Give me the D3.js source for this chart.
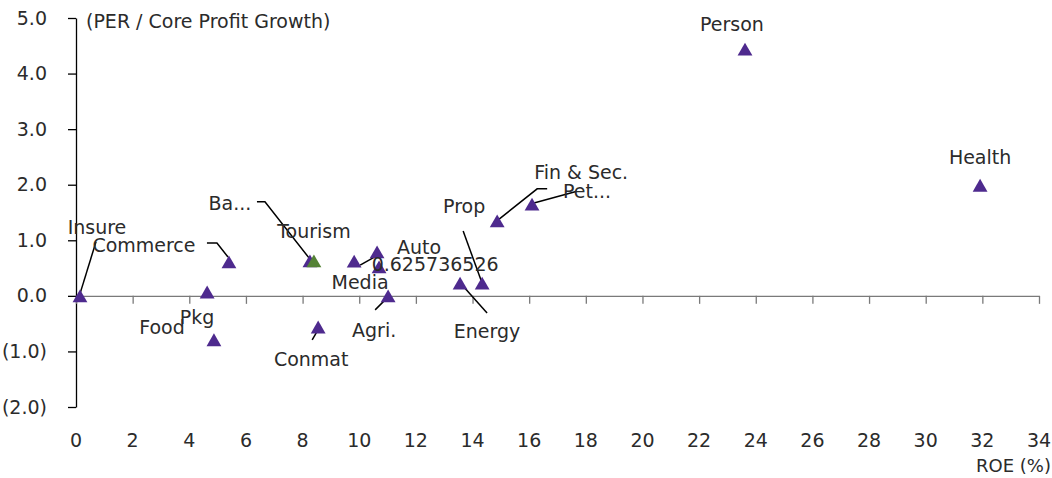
<!DOCTYPE html>
<html>
<head>
<meta charset="utf-8">
<script src="https://cdn.jsdelivr.net/npm/d3@7"></script>
<style>
  html, body { margin: 0; padding: 0; background: #fff; }
  svg { display: block; font-family: "DejaVu Sans", sans-serif; }
</style>
</head>
<body>
<svg id="chart" width="1052" height="478"></svg>
<script>
// ---- data ----
const sectors = ["Insure","Commerce","Pkg","Food","Ba...","Tourism","Auto","0.625736526","Media","Agri.","Conmat","Energy","Prop","Fin & Sec.","Pet...","Person","Health"];
const roe     = [0.14, 5.40, 4.63, 4.87, 8.26, 8.40, 10.63, 9.82, 10.70, 11.02, 8.55, 13.56, 14.34, 14.87, 16.10, 23.62, 31.92];
const pegRatio= [0.00, 0.61, 0.07, -0.79, 0.63, 0.63, 0.79, 0.625736526, 0.52, 0.00, -0.56, 0.23, 0.23, 1.35, 1.65, 4.44, 1.99];
const highlighted = ["Tourism"];
const xTicks = [0,2,4,6,8,10,12,14,16,18,20,22,24,26,28,30,32,34];
const yTicks = [5,4,3,2,1,0,-1,-2];
const yTitle = "(PER / Core Profit Growth)";
const xTitle = "ROE (%)";

// ---- label layout (pixel offsets from the point) ----
const labelOffsets = {
  "Insure":[17,-69], "Commerce":[-85,-17], "Pkg":[-10,25], "Food":[-52,-12],
  "Ba...":[-80,-57], "Tourism":[0,-29], "Auto":[42,-5], "0.625736526":[81,3],
  "Media":[-19,15], "Agri.":[-14,34], "Conmat":[-7,32], "Energy":[27,48],
  "Prop":[-18,-77], "Fin & Sec.":[84,-48], "Pet...":[55,-13], "Person":[-13,-25], "Health":[0,-28]
};
const leaders = {
  "Insure":[[16,-54],[0,-2]],
  "Commerce":[[-22,-19],[-12,-19],[-1,-5]],
  "Ba...":[[-53,-59],[-45,-59],[-1,-3]],
  "0.625736526":[[6,4],[22,-5]],
  "Agri.":[[-13,14],[-1,2]],
  "Conmat":[[-6,13],[1,1]],
  "Energy":[[27,30],[2,2]],
  "Prop":[[-19,-52],[1,3]],
  "Fin & Sec.":[[50,-32],[40,-32],[1,-1]],
  "Pet...":[[45,-13],[1,-1]]
};

const points = sectors.map((s,i)=>({name:s, x:roe[i], y:pegRatio[i]}));

const svg = d3.select("#chart");
const x = d3.scaleLinear().domain([0,34]).range([76,1039]);
const y = d3.scaleLinear().domain([-2,5]).range([407,18]);
const textColor = "#2b2b2b";
const fs = 19;

// y axis
const yAxis = svg.append("g").attr("transform",`translate(${x(0)},0)`)
  .call(d3.axisLeft(y).tickValues(yTicks).tickSize(8).tickSizeOuter(0)
    .tickFormat(d => d < 0 ? `(${Math.abs(d).toFixed(1)})` : d.toFixed(1)));
yAxis.select(".domain").attr("stroke","#000").attr("stroke-width",1.3);
yAxis.selectAll(".tick line").attr("stroke","#000").attr("stroke-width",1.3);
yAxis.selectAll(".tick text").attr("x",-29).attr("font-size",fs).attr("fill",textColor)
  .attr("font-family","DejaVu Sans");

// x axis at y=0, labels at bottom
const xAxis = svg.append("g").attr("transform",`translate(0,${y(0)})`)
  .call(d3.axisBottom(x).tickValues(xTicks).tickSize(8).tickSizeOuter(0).tickFormat(""));
xAxis.select(".domain").attr("stroke","#7a7a7a").attr("stroke-width",1.3);
xAxis.selectAll(".tick line").attr("stroke","#7a7a7a").attr("stroke-width",1.3);

svg.append("g").selectAll("text").data(xTicks).join("text")
  .attr("x", d => x(d)).attr("y", 440).attr("dy","0.35em")
  .attr("text-anchor","middle").attr("font-size",fs).attr("fill",textColor)
  .text(d => d);

svg.append("text").attr("x",1051).attr("y",466).attr("dy","0.35em")
  .attr("text-anchor","end").attr("font-size",fs-1).attr("fill",textColor).text(xTitle);
svg.append("text").attr("x",86).attr("y",21).attr("dy","0.35em")
  .attr("text-anchor","start").attr("font-size",fs).attr("fill",textColor).text(yTitle);

// leader lines
const line = d3.line();
svg.append("g").selectAll("path").data(points.filter(p => leaders[p.name])).join("path")
  .attr("d", p => line(leaders[p.name].map(o => [x(p.x)+o[0], y(p.y)+o[1]])))
  .attr("fill","none").attr("stroke","#000").attr("stroke-width",1.5);

// markers (bounding box centred on the value, like the original)
const triSize = 95;
const triH = Math.sqrt(triSize * Math.sqrt(3));
const tri = d3.symbol().type(d3.symbolTriangle).size(triSize);
svg.append("g").selectAll("path").data(points).join("path")
  .attr("d", tri)
  .attr("transform", p => `translate(${x(p.x)},${y(p.y) + triH/6})`)
  .attr("fill", p => highlighted.includes(p.name) ? "#548235" : "#4E2A8E");

// labels
svg.append("g").selectAll("text").data(points).join("text")
  .attr("x", p => x(p.x) + labelOffsets[p.name][0])
  .attr("y", p => y(p.y) + labelOffsets[p.name][1])
  .attr("dy","0.35em").attr("text-anchor","middle")
  .attr("font-size",fs).attr("fill",textColor)
  .text(p => p.name);
</script>
</body>
</html>
